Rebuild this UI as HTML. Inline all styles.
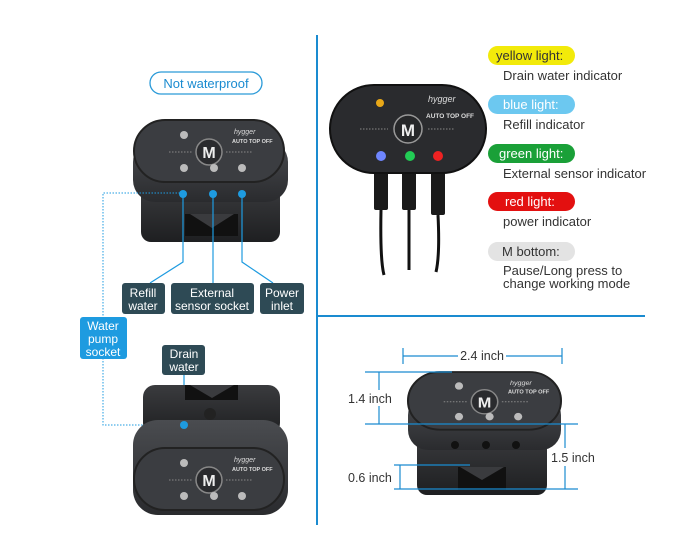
<!DOCTYPE html>
<html><head><meta charset="utf-8"><style>
html,body{margin:0;padding:0;background:#fff;}
svg{display:block;font-family:"Liberation Sans",sans-serif;}
</style></head><body>
<svg width="700" height="560" viewBox="0 0 700 560">
<defs>
<linearGradient id="body" x1="0" y1="0" x2="0" y2="1"><stop offset="0" stop-color="#4a4c50"/><stop offset="1" stop-color="#2a2b2e"/></linearGradient>
<linearGradient id="base" x1="0" y1="0" x2="0" y2="1"><stop offset="0" stop-color="#3a3b3e"/><stop offset="1" stop-color="#1e1f21"/></linearGradient>
<g id="face">
<rect x="0" y="0" width="150" height="62" rx="31" fill="#3b3d41" stroke="#222" stroke-width="2"/>
<circle cx="75" cy="32" r="13" fill="#2a2b2e" stroke="#888" stroke-width="1.5"/>
<text x="75" y="38" font-size="16" font-weight="bold" fill="#eee" text-anchor="middle">M</text>
<line x1="35" y1="32" x2="58" y2="32" stroke="#888" stroke-dasharray="1.5 1.5"/>
<line x1="92" y1="32" x2="118" y2="32" stroke="#888" stroke-dasharray="1.5 1.5"/>
<circle cx="50" cy="15" r="4" fill="#bbb"/>
<circle cx="50" cy="48" r="4" fill="#bbb"/><circle cx="80" cy="48" r="4" fill="#bbb"/><circle cx="108" cy="48" r="4" fill="#bbb"/>
<text x="100" y="14" font-size="7" font-style="italic" fill="#ddd">hygger</text>
<text x="98" y="23" font-size="5.5" font-weight="bold" fill="#ddd">AUTO TOP OFF</text>
</g>
</defs>

<!-- dividers -->
<line x1="317" y1="35" x2="317" y2="525" stroke="#1a8bd0" stroke-width="2"/>
<line x1="317" y1="316" x2="645" y2="316" stroke="#1a8bd0" stroke-width="2"/>

<!-- Not waterproof -->
<rect x="150" y="72" width="112" height="22" rx="11" fill="#fff" stroke="#2a9ad8" stroke-width="1.3"/>
<text x="206" y="88" font-size="13" fill="#1a8bd0" text-anchor="middle">Not waterproof</text>

<!-- device 1 -->
<rect x="141" y="185" width="139" height="57" rx="10" fill="url(#base)"/>
<polygon points="185,214 212,214 212,236 185,236" fill="#111"/><polygon points="212,214 238,214 238,236 212,236" fill="#111"/>
<polygon points="190,214 212,228 234,214" fill="#3a3b3e"/>
<rect x="133" y="140" width="155" height="62" rx="22" fill="url(#body)"/>
<use href="#face" x="134" y="120" transform="scale(1)" />
<circle cx="183" cy="194" r="4" fill="#1e9be0"/><circle cx="213" cy="194" r="4" fill="#1e9be0"/><circle cx="242" cy="194" r="4" fill="#1e9be0"/>
<g stroke="#1e9be0" stroke-width="1.2" fill="none">
<polyline points="183,194 183,262 150,283"/><line x1="213" y1="194" x2="213" y2="283"/><polyline points="242,194 242,262 273,283"/>
</g>
<g stroke="#1e9be0" stroke-width="1" fill="none" stroke-dasharray="1.5 1.5">
<polyline points="180,193 103,193 103,317"/><polyline points="103,358 103,425 180,425"/>
</g>
<g font-size="12" fill="#fff" text-anchor="middle">
<rect x="122" y="283" width="43" height="31" rx="3" fill="#2e4a55"/><text x="143" y="297">Refill</text><text x="143" y="310">water</text>
<rect x="171" y="283" width="83" height="31" rx="3" fill="#2e4a55"/><text x="212" y="297">External</text><text x="212" y="310">sensor socket</text>
<rect x="260" y="283" width="44" height="31" rx="3" fill="#2e4a55"/><text x="282" y="297">Power</text><text x="282" y="310">inlet</text>
<rect x="80" y="317" width="47" height="42" rx="3" fill="#1e9be0"/><text x="103" y="330">Water</text><text x="103" y="343">pump</text><text x="103" y="356">socket</text>
<rect x="162" y="345" width="43" height="30" rx="3" fill="#2e4a55"/><text x="184" y="358">Drain</text><text x="184" y="371">water</text>
</g>
<line x1="184" y1="375" x2="184" y2="425" stroke="#1e9be0" stroke-width="1.2"/>

<!-- device 2 (bottom left) -->
<rect x="143" y="385" width="137" height="50" rx="12" fill="url(#base)"/>
<polygon points="185,385 238,385 238,400 185,400" fill="#111"/>
<polygon points="190,385 212,398 234,385" fill="#3a3b3e"/>
<rect x="133" y="420" width="155" height="95" rx="25" fill="url(#body)"/>
<use href="#face" x="134" y="448"/>
<circle cx="184" cy="425" r="4" fill="#1e9be0"/>
<circle cx="210" cy="414" r="6" fill="#222"/>

<!-- right top device -->
<g fill="#1a1a1a">
<rect x="374" y="170" width="14" height="40" rx="2"/><rect x="402" y="170" width="14" height="40" rx="2"/><rect x="431" y="170" width="14" height="45" rx="2"/>
</g>
<g stroke="#111" stroke-width="3" fill="none">
<path d="M381,210 Q380,260 384,275"/><path d="M409,210 L409,270"/><path d="M438,215 Q440,255 436,272"/>
</g>
<rect x="330" y="85" width="156" height="88" rx="44" fill="#2a2b2e" stroke="#111" stroke-width="2"/>
<circle cx="408" cy="129" r="14" fill="#262729" stroke="#999" stroke-width="1.5"/>
<text x="408" y="136" font-size="17" font-weight="bold" fill="#eee" text-anchor="middle">M</text>
<line x1="360" y1="129" x2="388" y2="129" stroke="#888" stroke-dasharray="1.5 1.5"/>
<line x1="428" y1="129" x2="455" y2="129" stroke="#888" stroke-dasharray="1.5 1.5"/>
<circle cx="380" cy="103" r="4" fill="#e8a818"/>
<circle cx="381" cy="156" r="5" fill="#6f86ff"/><circle cx="410" cy="156" r="5" fill="#22cc55"/><circle cx="438" cy="156" r="5" fill="#ee2222"/>
<text x="428" y="102" font-size="9" font-style="italic" fill="#ddd">hygger</text>
<text x="426" y="118" font-size="6.5" font-weight="bold" fill="#ddd">AUTO TOP OFF</text>

<!-- legend -->
<g font-size="13">
<rect x="488" y="46" width="87" height="19" rx="9.5" fill="#f2ea0a"/><text x="496" y="60" fill="#333">yellow light:</text>
<text x="503" y="80" fill="#333">Drain water indicator</text>
<rect x="488" y="95" width="87" height="19" rx="9.5" fill="#6cc8f0"/><text x="503" y="109" fill="#fff">blue light:</text>
<text x="503" y="129" fill="#333">Refill indicator</text>
<rect x="488" y="144" width="87" height="19" rx="9.5" fill="#1aa038"/><text x="499" y="158" fill="#fff">green light:</text>
<text x="503" y="178" fill="#333">External sensor indicator</text>
<rect x="488" y="192" width="87" height="19" rx="9.5" fill="#e31010"/><text x="505" y="206" fill="#fff">red light:</text>
<text x="503" y="226" fill="#333">power indicator</text>
<rect x="488" y="242" width="87" height="19" rx="9.5" fill="#e3e3e3"/><text x="502" y="256" fill="#333">M bottom:</text>
<text x="503" y="275" fill="#333">Pause/Long press to</text>
<text x="503" y="288" fill="#333">change working mode</text>
</g>

<!-- dimension device -->
<rect x="417" y="433" width="130" height="62" rx="10" fill="url(#base)"/>
<polygon points="458,467 506,467 506,490 458,490" fill="#111"/>
<polygon points="460,467 482,480 504,467" fill="#3a3b3e"/>
<rect x="408" y="395" width="153" height="55" rx="20" fill="url(#body)"/>
<g transform="translate(408,372) scale(1.02,0.93)"><use href="#face"/></g>
<circle cx="455" cy="445" r="4" fill="#111"/><circle cx="486" cy="445" r="4" fill="#111"/><circle cx="516" cy="445" r="4" fill="#111"/>
<g stroke="#1a8bd0" stroke-width="1.2" fill="none">
<line x1="403" y1="348" x2="403" y2="364"/><line x1="562" y1="348" x2="562" y2="364"/>
<line x1="403" y1="356" x2="458" y2="356"/><line x1="506" y1="356" x2="562" y2="356"/>
<line x1="365" y1="372" x2="452" y2="372"/><line x1="365" y1="424" x2="578" y2="424"/>
<line x1="379" y1="372" x2="379" y2="390"/><line x1="379" y1="406" x2="379" y2="424"/>
<line x1="565" y1="424" x2="565" y2="448"/><line x1="565" y1="466" x2="565" y2="489"/>
<line x1="394" y1="465" x2="470" y2="465"/><line x1="394" y1="489" x2="578" y2="489"/>
<line x1="400" y1="465" x2="400" y2="489"/>
</g>
<g font-size="12.5" fill="#333">
<text x="482" y="360" text-anchor="middle">2.4 inch</text>
<text x="348" y="403">1.4 inch</text>
<text x="551" y="462">1.5 inch</text>
<text x="348" y="482">0.6 inch</text>
</g>
</svg>
</body></html>
